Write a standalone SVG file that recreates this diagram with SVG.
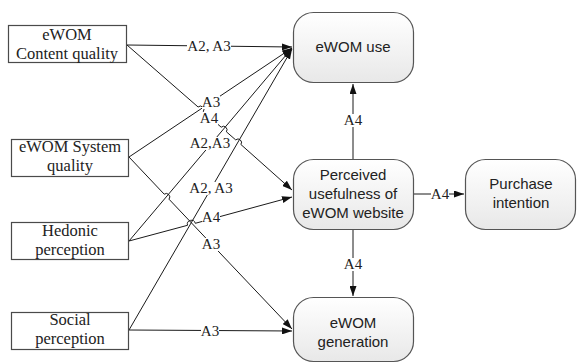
<svg xmlns="http://www.w3.org/2000/svg" width="577" height="363" viewBox="0 0 577 363">
  <defs>
    <linearGradient id="nodeFill" x1="0" y1="0" x2="0" y2="1">
      <stop offset="0" stop-color="#ffffff"/>
      <stop offset="1" stop-color="#e8e8e8"/>
    </linearGradient>
    <marker id="arrow" viewBox="0 0 10 7" refX="10" refY="3.5" markerWidth="10" markerHeight="7" markerUnits="userSpaceOnUse" orient="auto">
      <path d="M0,0 L10,3.5 L0,7 z" fill="#111"/>
    </marker>
    <style>
      .box { fill: #ffffff; stroke: #4a4a4a; stroke-width: 1.2; }
      .node { fill: url(#nodeFill); stroke: #555555; stroke-width: 1.2; }
      .serif { font-family: "Liberation Serif", "Times New Roman", serif; font-size: 16.5px; fill: #222; text-anchor: middle; }
      .sans { font-family: "Liberation Sans", Arial, sans-serif; font-size: 15px; fill: #222; text-anchor: middle; }
      .edge { fill: none; stroke: #1a1a1a; stroke-width: 1; marker-end: url(#arrow); }
      .bg { fill: #ffffff; }
      .lbl { font-family: "Liberation Serif", "Times New Roman", serif; font-size: 15px; fill: #222; text-anchor: middle; }
    </style>
  </defs>

  <!-- connectors -->
  <g id="connectors">
    <!-- content quality -> eWOM use -->
    <path class="edge" d="M127,45 L292,47"/>
    <!-- content quality -> perceived usefulness (hops over crossing lines) -->
    <path class="edge" d="M127,45 L198.1,107 A3.5,3.5 0 0 1 203.3,111.6 L221.2,127.2 A3.5,3.5 0 0 1 226.4,131.8 L235.7,139.9 A3.5,3.5 0 0 1 240.9,144.5 L292,190"/>
    <!-- system quality -> eWOM use -->
    <path class="edge" d="M129,157 L292,48"/>
    <!-- system quality -> eWOM generation -->
    <path class="edge" d="M129,157 L164.2,194.2 A3.5,3.5 0 0 1 169,199.2 L292,329"/>
    <!-- hedonic -> eWOM use -->
    <path class="edge" d="M129,241 L292,48"/>
    <!-- hedonic -> perceived usefulness -->
    <path class="edge" d="M129,241 L187.5,225.3 A4,4 0 0 1 195.3,223.3 L292,197"/>
    <!-- social -> eWOM use -->
    <path class="edge" d="M129,330 L292,49"/>
    <!-- social -> eWOM generation -->
    <path class="edge" d="M129,330 L292,331"/>
    <!-- perceived usefulness -> eWOM use / generation / purchase -->
    <path class="edge" d="M353,159 L353,84"/>
    <path class="edge" d="M353,230 L353,296"/>
    <path class="edge" d="M413,194 L464,194"/>

    <!-- path labels on white backing -->
    <rect class="bg" x="187" y="39" width="44" height="14"/>
    <text class="lbl" x="209" y="51">A2, A3</text>
    <rect class="bg" x="202" y="96" width="18" height="13"/>
    <text class="lbl" x="211" y="107">A3</text>
    <rect class="bg" x="200" y="112" width="18" height="13"/>
    <text class="lbl" x="209" y="123">A4</text>
    <rect class="bg" x="190" y="137" width="40" height="13"/>
    <text class="lbl" x="210" y="148">A2,A3</text>
    <rect class="bg" x="189" y="182" width="44" height="13"/>
    <text class="lbl" x="211" y="193">A2, A3</text>
    <rect class="bg" x="202" y="211" width="18" height="13"/>
    <text class="lbl" x="211" y="222">A4</text>
    <rect class="bg" x="202" y="238" width="18" height="13"/>
    <text class="lbl" x="211" y="249">A3</text>
    <rect class="bg" x="201" y="325" width="18" height="13"/>
    <text class="lbl" x="210" y="336">A3</text>
    <rect class="bg" x="344" y="114" width="18" height="13"/>
    <text class="lbl" x="353" y="125">A4</text>
    <rect class="bg" x="344" y="258" width="18" height="13"/>
    <text class="lbl" x="353" y="269">A4</text>
    <rect class="bg" x="431" y="188" width="18" height="13"/>
    <text class="lbl" x="440" y="199">A4</text>
  </g>

  <!-- source constructs -->
  <g id="content-quality">
    <rect class="box" x="8.5" y="25.5" width="118" height="37"/>
    <text class="serif" x="67" y="40">eWOM</text>
    <text class="serif" x="67" y="59">Content quality</text>
  </g>
  <g id="system-quality">
    <rect class="box" x="11.5" y="139.5" width="117" height="37"/>
    <text class="serif" x="70" y="152">eWOM System</text>
    <text class="serif" x="70" y="171">quality</text>
  </g>
  <g id="hedonic-perception">
    <rect class="box" x="11.5" y="222.5" width="117" height="37"/>
    <text class="serif" x="70" y="236">Hedonic</text>
    <text class="serif" x="70" y="255">perception</text>
  </g>
  <g id="social-perception">
    <rect class="box" x="11.5" y="312.5" width="117" height="37"/>
    <text class="serif" x="70" y="325">Social</text>
    <text class="serif" x="70" y="344">perception</text>
  </g>

  <!-- outcome constructs -->
  <g id="ewom-use">
    <rect class="node" x="293.5" y="12.5" width="120" height="70" rx="20" ry="20"/>
    <text class="sans" x="353" y="52">eWOM use</text>
  </g>
  <g id="perceived-usefulness">
    <rect class="node" x="293.5" y="159.5" width="120" height="70" rx="20" ry="20"/>
    <text class="sans" x="353" y="180">Perceived</text>
    <text class="sans" x="353" y="199">usefulness of</text>
    <text class="sans" x="353" y="218">eWOM website</text>
  </g>
  <g id="purchase-intention">
    <rect class="node" x="465.5" y="159.5" width="110" height="70" rx="20" ry="20"/>
    <text class="sans" x="521" y="189">Purchase</text>
    <text class="sans" x="521" y="208">intention</text>
  </g>
  <g id="ewom-generation">
    <rect class="node" x="293.5" y="297.5" width="120" height="64" rx="20" ry="20"/>
    <text class="sans" x="353" y="328">eWOM</text>
    <text class="sans" x="353" y="347">generation</text>
  </g>
</svg>
